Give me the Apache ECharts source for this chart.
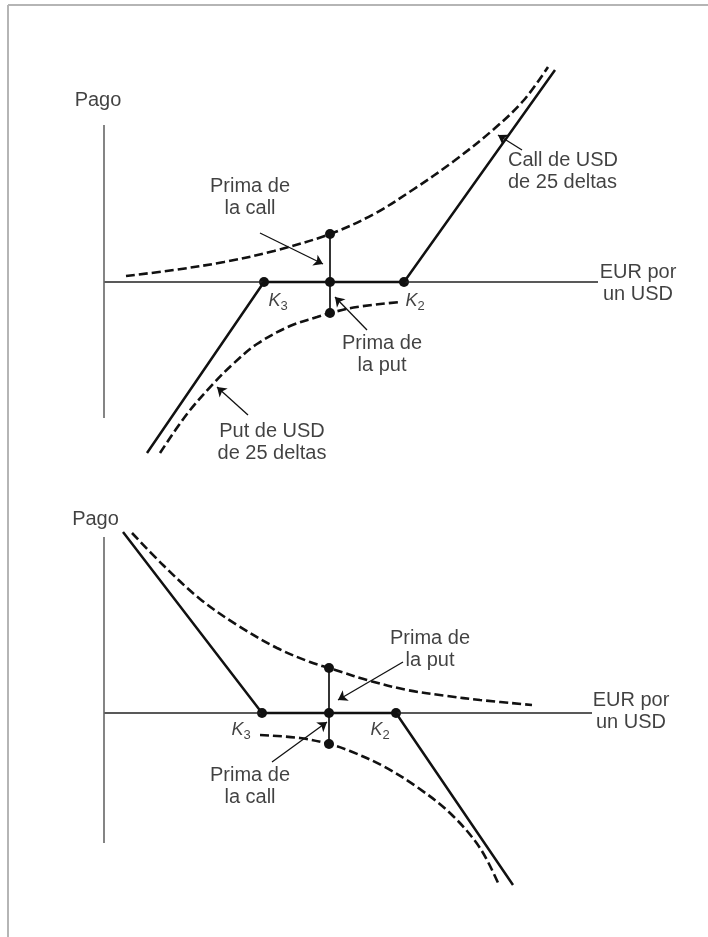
<!DOCTYPE html>
<html>
<head>
<meta charset="utf-8">
<script src="https://cdn.jsdelivr.net/npm/echarts@6/dist/echarts.min.js"></script>
<style>html,body{margin:0;padding:0;background:#fff}#c{width:708px;height:937px}</style>
</head>
<body>
<div id="c"></div>
<script>
// ---------- Top diagram: long USD call (K2) / short USD put (K3) ----------
const topAxisX = [[0, 0], [98.8, 0]];
const topAxisY = [[0, 31.4], [0, -27.2]];
const topPayoff = [[8.6, -34.2], [32, 0], [60, 0], [90.2, 42.4]];
const topCallValue = [[4.4, 1.2], [14, 2.4], [24, 4.0], [34, 6.2], [45.2, 9.6], [54, 13.6], [62, 18.6], [70, 24.2], [78, 30.6], [84, 36.4], [88.8, 43]];
const topPutValue = [[11.2, -34.2], [16.6, -26.4], [21.8, -20.4], [25.8, -16.4], [30.6, -12.4], [37.2, -8.8], [42.6, -7], [45.2, -6.2], [50.6, -5], [59.2, -4]];
const topPremium = [[45.2, 9.6], [45.2, -6.2]];
const topDots = [[32, 0], [45.2, 0], [60, 0], [45.2, 9.6], [45.2, -6.2]];
const topTexts = [
  ['Pago', -1.2, 36.4, 'center'],
  ['Prima de\nla call', 29.2, 16.9, 'center'],
  ['Call de USD\nde 25 deltas', 80.8, 22.1, 'left'],
  ['EUR por\nun USD', 106.8, -0.2, 'center'],
  ['Prima de\nla put', 55.6, -14.4, 'center'],
  ['Put de USD\nde 25 deltas', 33.6, -32, 'center']
];
const topStrikeLabels = [['3', 34.8, -3.8], ['2', 62.2, -3.8]];
const topArrows = [
  [[31.2, 9.8], [43.8, 3.6]],
  [[83.6, 26.4], [78.8, 29.4]],
  [[52.6, -9.6], [46.2, -3]],
  [[28.8, -26.6], [22.6, -21]]
];

// ---------- Bottom diagram: long USD put (K3) / short USD call (K2) ----------
const botAxisX = [[0, 0], [97.6, 0]];
const botAxisY = [[0, 35.2], [0, -26]];
const botPayoff = [[3.8, 36.2], [31.6, 0], [58.4, 0], [81.8, -34.4]];
const botPutValue = [[5.6, 36], [11.8, 29.6], [19.2, 22.8], [26.6, 17.6], [34.6, 13], [41.2, 10.2], [45, 9], [47.2, 8.3], [52.6, 6.6], [60.6, 4.6], [68.6, 3.4], [75.2, 2.6], [85.6, 1.6]];
const botCallValue = [[31.2, -4.4], [39.2, -5], [45, -6.2], [49.2, -7.6], [55.8, -10.6], [62.6, -14.8], [69.4, -20.2], [75.2, -27], [79, -34.4]];
const botPremium = [[45, 9], [45, -6.2]];
const botDots = [[31.6, 0], [45, 0], [58.4, 0], [45, 9], [45, -6.2]];
const botTexts = [
  ['Pago', -1.7, 38.8, 'center'],
  ['EUR por\nun USD', 105.4, 0.3, 'center'],
  ['Prima de\nla put', 65.2, 12.8, 'center'],
  ['Prima de\nla call', 29.2, -14.6, 'center']
];
const botStrikeLabels = [['3', 27.4, -3.4], ['2', 55.2, -3.4]];
const botArrows = [
  [[59.8, 10.2], [46.8, 2.6]],
  [[33.6, -9.8], [44.6, -1.8]]
];

const FONT = '"Liberation Sans", Arial, Helvetica, sans-serif';
const INK = '#111111';

function buildSeries(g, axisX, axisY, payoff, v1, v2, prem, dots, texts, kl, arrows) {
  const ax = {xAxisIndex: g, yAxisIndex: g};
  const s = [];
  s.push(Object.assign({type: 'line', data: axisX, symbol: 'none', silent: true,
    lineStyle: {color: '#222', width: 1.3}}, ax));
  s.push(Object.assign({type: 'line', data: axisY, symbol: 'none', silent: true,
    lineStyle: {color: '#666', width: 1.6}}, ax));
  s.push(Object.assign({type: 'line', data: v1, symbol: 'none', smooth: 0.35, clip: false,
    lineStyle: {color: INK, width: 2.6, type: [9, 4]}}, ax));
  s.push(Object.assign({type: 'line', data: v2, symbol: 'none', smooth: 0.35, clip: false,
    lineStyle: {color: INK, width: 2.6, type: [9, 4]}}, ax));
  s.push(Object.assign({type: 'line', data: payoff, symbol: 'none', clip: false,
    lineStyle: {color: INK, width: 2.5}}, ax));
  s.push(Object.assign({type: 'line', data: prem, symbol: 'none', clip: false,
    lineStyle: {color: INK, width: 1.7}}, ax));
  s.push(Object.assign({type: 'scatter', data: dots, symbol: 'circle', symbolSize: 10, clip: false,
    itemStyle: {color: INK, opacity: 1}}, ax));
  s.push(Object.assign({type: 'lines', coordinateSystem: 'cartesian2d', clip: false,
    data: arrows.map(a => ({coords: a})), symbol: ['none', 'arrow'], symbolSize: [1, 9],
    lineStyle: {color: INK, width: 1.3, opacity: 1}, itemStyle: {color: INK}}, ax));
  s.push(Object.assign({type: 'scatter', symbolSize: 0, clip: false,
    data: texts.map(t => ({value: [t[1], t[2]], label: {
      show: true, formatter: t[0], position: t[3] === 'left' ? 'right' : 'inside', distance: 0,
      align: t[3], color: INK, fontSize: 20, lineHeight: 22, fontFamily: FONT}}))}, ax));
  s.push(Object.assign({type: 'scatter', symbolSize: 0, clip: false,
    data: kl.map(t => ({value: [t[1], t[2]], label: {
      show: true, position: 'inside', formatter: '{k|K}{s|' + t[0] + '}',
      rich: {
        k: {fontStyle: 'italic', fontSize: 18, color: INK, fontFamily: FONT, lineHeight: 20},
        s: {fontSize: 13, color: INK, fontFamily: FONT, lineHeight: 13, padding: [10, 0, 0, 0]}
      }}}))}, ax));
  return s;
}

const chart = echarts.init(document.getElementById('c'), null, {renderer: 'canvas'});
chart.setOption({
  animation: false,
  backgroundColor: '#fff',
  grid: [
    {left: 104, top: 55, width: 600, height: 415},
    {left: 104, top: 500, width: 600, height: 400}
  ],
  xAxis: [
    {type: 'value', gridIndex: 0, min: 0, max: 120, show: false},
    {type: 'value', gridIndex: 1, min: 0, max: 120, show: false}
  ],
  yAxis: [
    {type: 'value', gridIndex: 0, min: -37.6, max: 45.4, show: false},
    {type: 'value', gridIndex: 1, min: -37.4, max: 42.6, show: false}
  ],
  graphic: [
    {type: 'line', shape: {x1: 8, y1: 5, x2: 708, y2: 5}, style: {stroke: '#b5b5b5', lineWidth: 2}},
    {type: 'line', shape: {x1: 8, y1: 5, x2: 8, y2: 937}, style: {stroke: '#b5b5b5', lineWidth: 2}}
  ],
  series: [].concat(
    buildSeries(0, topAxisX, topAxisY, topPayoff, topCallValue, topPutValue, topPremium, topDots, topTexts, topStrikeLabels, topArrows),
    buildSeries(1, botAxisX, botAxisY, botPayoff, botPutValue, botCallValue, botPremium, botDots, botTexts, botStrikeLabels, botArrows)
  )
});
</script>
</body>
</html>
